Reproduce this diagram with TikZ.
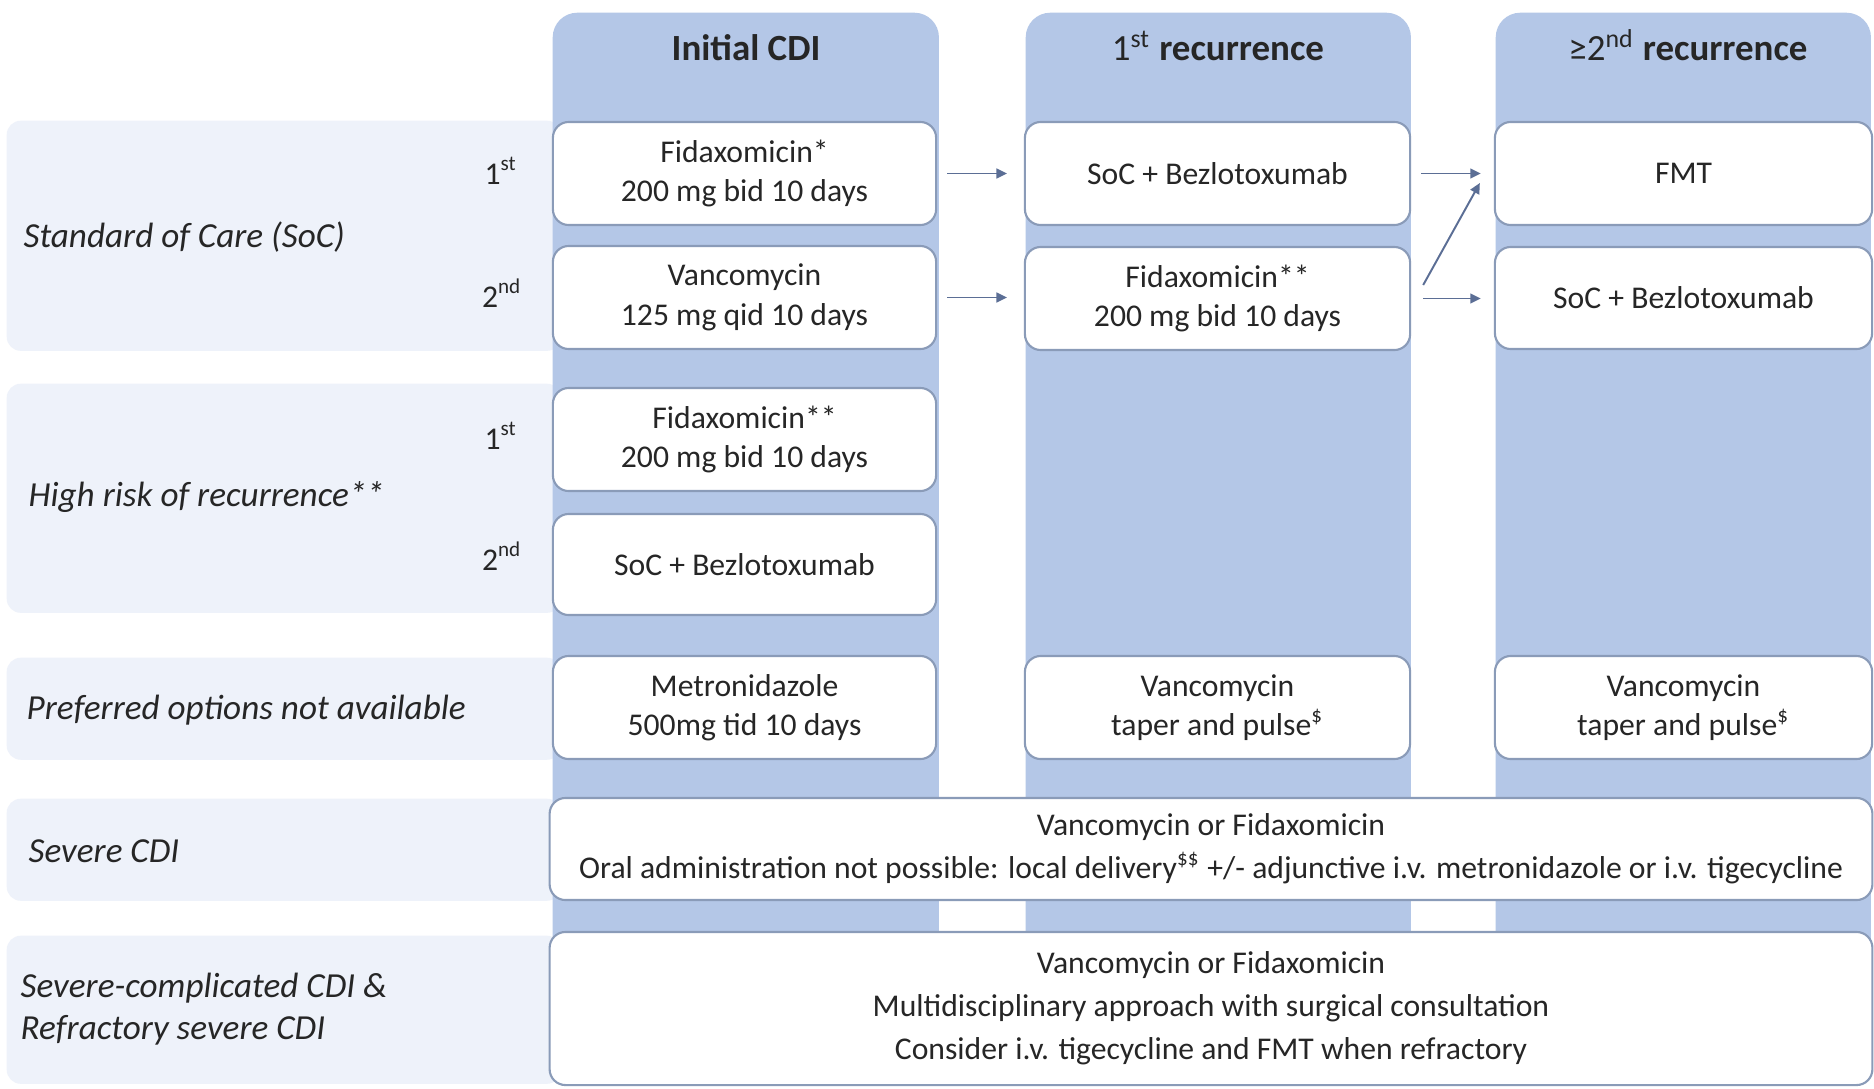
\documentclass[tikz,border=0pt]{standalone}
\usepackage{fontspec}
\setmainfont{Carlito}
\usetikzlibrary{arrows.meta,calc}
\definecolor{colfill}{HTML}{B4C7E7}
\definecolor{bandfill}{HTML}{EEF2FA}
\definecolor{boxline}{HTML}{8A9BB8}
\definecolor{arrowc}{HTML}{5B6E95}
\definecolor{txt}{HTML}{262626}
\tikzset{
  colbg/.style={fill=colfill, rounded corners=7pt, anchor=north west, inner sep=0pt},
  band/.style={fill=bandfill, rounded corners=4pt, anchor=north west, inner sep=0pt},
  box/.style={draw=boxline, line width=0.6pt, fill=white, rounded corners=4.5pt,
    align=center, text=txt, font=\fontsize{9}{11.2}\selectfont, inner sep=0pt},
  hdr/.style={text=txt, anchor=base, font=\fontsize{10.5}{12}\selectfont\bfseries},
  rowlab/.style={text=txt, anchor=west, align=left, inner sep=0pt, font=\fontsize{10}{12}\selectfont\itshape},
  ord/.style={text=txt, font=\fontsize{9}{11}\selectfont},
  arr/.style={draw=arrowc, line width=0.55pt, -{Triangle[length=3pt,width=2.8pt]}}
}
\begin{document}
\begin{tikzpicture}[x=0.01cm, y=-0.01cm]
\clip (0,0) rectangle (1874,1088);
\fill[white] (0,0) rectangle (1874,1088);
% row bands
\node[band, minimum width=5.54cm, minimum height=2.30cm] (r1) at (6,120) {};
\node[band, minimum width=5.54cm, minimum height=2.29cm] (r2) at (6,383) {};
\node[band, minimum width=5.54cm, minimum height=1.02cm] (r3) at (6,657) {};
\node[band, minimum width=5.54cm, minimum height=1.02cm] (r4) at (6,798) {};
\node[band, minimum width=5.54cm, minimum height=1.48cm] (r5) at (6,935) {};
% columns
\node[colbg, minimum width=3.86cm, minimum height=10.68cm] (col1) at (552,12) {};
\node[colbg, minimum width=3.85cm, minimum height=10.68cm] (col2) at (1025,12) {};
\node[colbg, minimum width=3.75cm, minimum height=10.68cm] (col3) at (1495,12) {};
% headers
\node[hdr] (h1) at (746,61) {Initial CDI};
\node[hdr] (h2) at (1218,61) {{\mdseries 1\textsuperscript{st}} recurrence};
\node[hdr] (h3) at (1688,61) {{\mdseries ≥2\textsuperscript{nd}} recurrence};
% row labels
\node[rowlab] (l1) at (23,237) {Standard of Care (SoC)};
\node[rowlab] (l2) at (28,497) {High risk of recurrence**};
\node[rowlab] (l3) at (26,710) {Preferred options not available};
\node[rowlab] (l4) at (28,851) {Severe CDI};
\node[rowlab] (l5) at (20,1009) {Severe-complicated CDI \&\\Refractory severe CDI};
% ordinal labels
\node[ord] (o1) at (501,171) {1\textsuperscript{st}};
\node[ord] (o2) at (502,293) {2\textsuperscript{nd}};
\node[ord] (o3) at (501,436) {1\textsuperscript{st}};
\node[ord] (o4) at (502,556) {2\textsuperscript{nd}};
% initial CDI boxes
\node[box, minimum width=3.83cm, minimum height=1.03cm] (b11) at (744.5,173.5) {Fidaxomicin*\\200 mg bid 10 days};
\node[box, minimum width=3.83cm, minimum height=1.03cm] (b12) at (744.5,297.5) {Vancomycin\\125 mg qid 10 days};
\node[box, minimum width=3.83cm, minimum height=1.03cm] (b13) at (744.5,439.5) {Fidaxomicin**\\200 mg bid 10 days};
\node[box, minimum width=3.83cm, minimum height=1.01cm] (b14) at (744.5,564.5) {SoC + Bezlotoxumab};
\node[box, minimum width=3.83cm, minimum height=1.03cm] (b15) at (744.5,707.5) {Metronidazole\\500mg tid 10 days};
% 1st recurrence boxes
\node[box, minimum width=3.85cm, minimum height=1.03cm] (b21) at (1217.5,173.5) {SoC + Bezlotoxumab};
\node[box, minimum width=3.85cm, minimum height=1.03cm] (b22) at (1217.5,298.5) {Fidaxomicin**\\200 mg bid 10 days};
\node[box, minimum width=3.85cm, minimum height=1.03cm] (b25) at (1217.5,707.5) {Vancomycin\\taper and pulse\textsuperscript{\$}};
% >=2nd recurrence boxes
\node[box, minimum width=3.77cm, minimum height=1.03cm] (b31) at (1683.5,173.5) {FMT};
\node[box, minimum width=3.77cm, minimum height=1.02cm] (b32) at (1683.5,298) {SoC + Bezlotoxumab};
\node[box, minimum width=3.77cm, minimum height=1.03cm] (b35) at (1683.5,707.5) {Vancomycin\\taper and pulse\textsuperscript{\$}};
% wide boxes
\node[box, minimum width=13.22cm, minimum height=1.02cm] (sev) at (1211,849) {Vancomycin or Fidaxomicin\\[1pt]Oral administration not possible: local delivery\textsuperscript{\$\$} +/- adjunctive i.v. metronidazole or i.v. tigecycline};
\node[box, minimum width=13.22cm, minimum height=1.53cm] (sevc) at (1211,1008.5) {Vancomycin or Fidaxomicin\\[1pt]Multidisciplinary approach with surgical consultation\\[1pt]Consider i.v. tigecycline and FMT when refractory};
% arrows
\draw[arr, shorten <=2.8pt, shorten >=4.8pt] (b11.east) -- (b11.east -| b21.west);
\draw[arr, shorten <=2.8pt, shorten >=4.8pt] (b12.east) -- (b12.east -| b22.west);
\draw[arr, shorten <=2.8pt, shorten >=3.7pt] (b21.east) -- (b31.west);
\draw[arr] ($(b22.east)+(12,-13.5)$) -- ($(b31.west)+(-14,9.5)$);
\draw[arr, shorten <=3.4pt, shorten >=3.7pt] (b22.east) -- (b22.east -| b32.west);
\end{tikzpicture}
\end{document}
